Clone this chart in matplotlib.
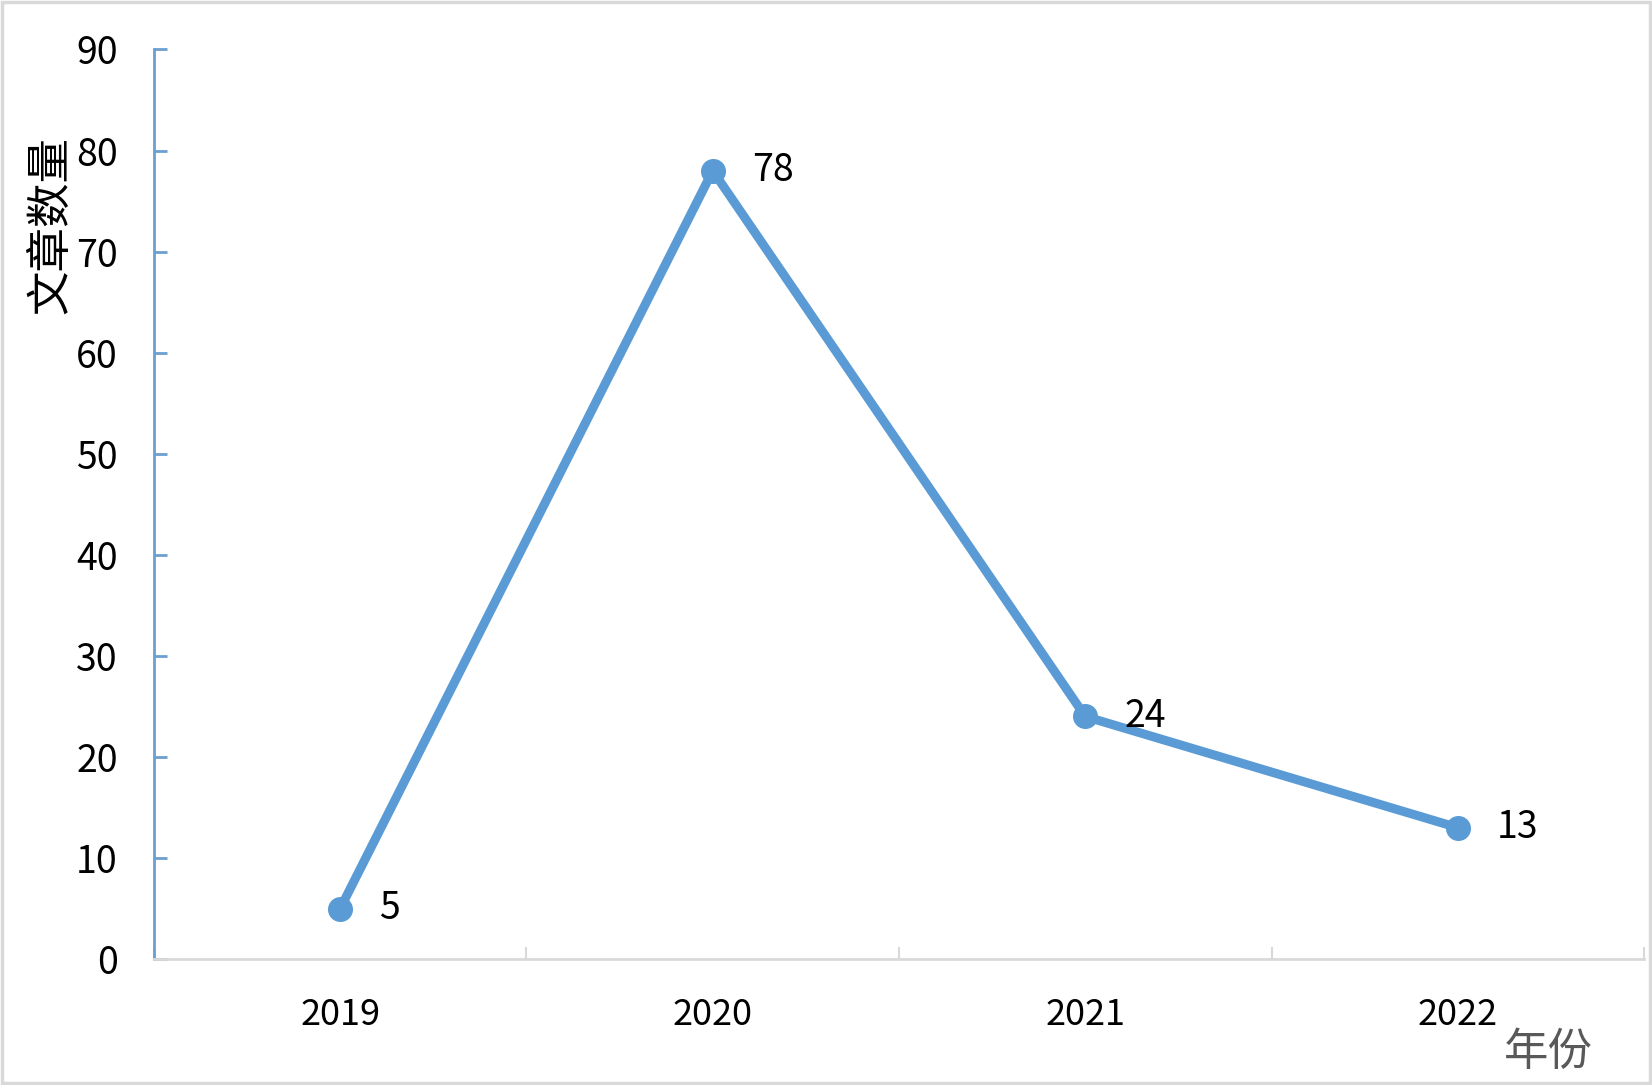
import matplotlib
matplotlib.use("Agg")
import matplotlib.pyplot as plt
from matplotlib.patches import Rectangle

plt.rcParams['font.family'] = ['Noto Sans CJK SC', 'DejaVu Sans']

years = ["2019", "2020", "2021", "2022"]
counts = [5, 78, 24, 13]
y_ticks = [0, 10, 20, 30, 40, 50, 60, 70, 80, 90]

line_color = "#5B9BD5"

fig = plt.figure(figsize=(16.52, 10.85), dpi=100)
ax = fig.add_axes([0.0932, 0.1161, 0.9020, 0.8383])

xs = [i + 0.5 for i in range(len(years))]
ax.plot(xs, counts, color=line_color, lw=6.5, marker='o', markersize=17,
        solid_capstyle='round', zorder=3, clip_on=False)
for x, v in zip(xs, counts):
    ax.annotate(str(v), (x, v), xytext=(28, 0), textcoords='offset points',
                ha='left', va='center', fontsize=27, color='black')

ax.set_xlim(0, len(years))
ax.set_ylim(0, 90)
ax.set_yticks(y_ticks)
ax.set_yticklabels([str(t) for t in y_ticks], fontsize=27)
ax.set_xticks(xs)
ax.set_xticklabels(years, fontsize=26)
ax.set_xticks(range(len(years) + 1), minor=True)

ax.tick_params(axis='x', which='major', length=0, pad=27)
ax.tick_params(axis='x', which='minor', direction='in', length=9, color='#d9d9d9', width=1.5)
ax.tick_params(axis='y', direction='in', length=9, color='#6a9fd0', width=2, pad=26)

for s in ['top', 'right']:
    ax.spines[s].set_visible(False)
ax.spines['left'].set_color('#6a9fd0')
ax.spines['left'].set_linewidth(2)
ax.spines['bottom'].set_color('#d9d9d9')
ax.spines['bottom'].set_linewidth(2)

fig.text(0.0305, 0.793, "文章数量", rotation=90, ha='center', va='center', fontsize=32, color='black')
fig.text(0.937, 0.009, "年份", ha='center', va='bottom', fontsize=32, color='#595959')

fig.patches.append(Rectangle((0.001, 0.002), 0.998, 0.996, transform=fig.transFigure,
                             fill=False, edgecolor='#d9d9d9', linewidth=2.5))

fig.savefig("out.png", dpi=100, facecolor='white')
